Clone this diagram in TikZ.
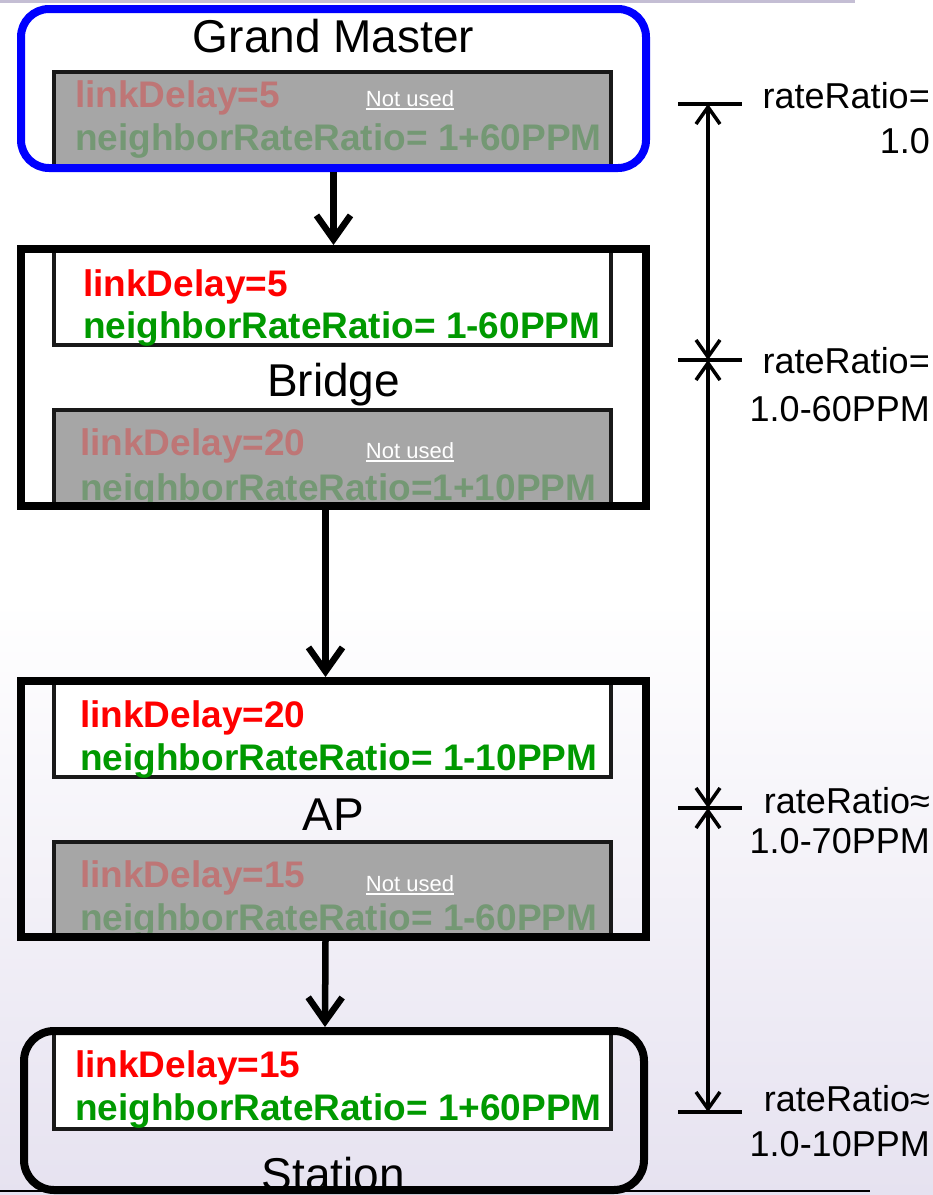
\documentclass[tikz,border=0pt]{standalone}
\usepackage{fontspec}
\setmainfont{Liberation Sans}
\usetikzlibrary{arrows.meta}

\definecolor{lav}{RGB}{230,226,240}
\definecolor{rulegray}{RGB}{196,190,212}
\definecolor{baseline}{RGB}{150,150,158}
\definecolor{activered}{RGB}{255,0,0}
\definecolor{activegreen}{RGB}{0,153,0}
\definecolor{fadedred}{RGB}{190,118,118}
\definecolor{fadedgreen}{RGB}{116,152,116}
\definecolor{unusedfill}{RGB}{166,166,166}
\definecolor{gmblue}{RGB}{0,0,255}

\tikzset{
  frame/.style={draw=black, line width=8pt, inner sep=0pt, minimum width=625pt},
  portbox/.style={draw=black!90, line width=4pt, inner sep=0pt, minimum width=557pt},
  activeport/.style={portbox, fill=white},
  idleport/.style={portbox, fill=unusedfill},
  valtext/.style={font=\fontsize{37}{40}\selectfont\bfseries, anchor=base west, inner sep=0pt},
  delayon/.style={valtext, text=activered},
  rateon/.style={valtext, text=activegreen},
  delayoff/.style={valtext, text=fadedred},
  rateoff/.style={valtext, text=fadedgreen},
  title/.style={font=\fontsize{46}{50}\selectfont, anchor=base, inner sep=0pt},
  notused/.style={font=\fontsize{22}{24}\selectfont, text=white, anchor=base, inner sep=0pt},
  ratelabel/.style={font=\fontsize{36}{40}\selectfont, anchor=base east, inner sep=0pt},
  flow/.style={line width=6.5pt, -{Straight Barb[length=24pt,width=34pt]}},
  dimline/.style={line width=3.5pt},
  dimarrow/.style={dimline, {Straight Barb[length=17pt,width=24pt]}-{Straight Barb[length=17pt,width=24pt]}},
}

\begin{document}
\begin{tikzpicture}[x=1pt,y=1pt]
  \useasboundingbox (0,0) rectangle (933,-1195);
  % page background: white fading to pale lavender towards the foot
  \fill[white] (0,0) rectangle (933,-600);
  \shade[top color=white, bottom color=lav] (0,-600) rectangle (933,-1195);
  \draw[rulegray, line width=3pt] (0,-1.5) -- (855,-1.5);
  \draw[baseline, line width=2pt] (0,-1191) -- (870,-1191);

  % ---- port boxes ----
  \node[idleport, minimum height=96pt] (gmport) at (332.5,-120) {};
  \node[activeport, minimum height=94pt] (brup) at (332.5,-298) {};
  \node[idleport, minimum height=96pt] (brdown) at (332.5,-458) {};
  \node[activeport, minimum height=94pt] (apup) at (332.5,-730) {};
  \node[idleport, minimum height=95pt] (apdown) at (332.5,-889.5) {};
  \node[activeport, minimum height=98pt] (staport) at (332.5,-1080) {};

  % ---- port values ----
  \node[delayoff] (gmd) at (75,-107) {linkDelay=5};
  \node[rateoff] (gmr) at (75,-150) {neighborRateRatio= 1+60PPM};
  \node[notused] (nu1) at (410,-106) {Not used};

  \node[delayon] (bud) at (83,-296) {linkDelay=5};
  \node[rateon] (bur) at (83,-338) {neighborRateRatio= 1-60PPM};
  \node[delayoff] (bdd) at (80,-455) {linkDelay=20};
  \node[rateoff] (bdr) at (80,-500) {neighborRateRatio=1+10PPM};
  \node[notused] (nu2) at (410,-458) {Not used};

  \node[delayon] (aud) at (80,-727) {linkDelay=20};
  \node[rateon] (aur) at (80,-770) {neighborRateRatio= 1-10PPM};
  \node[delayoff] (add) at (80,-887) {linkDelay=15};
  \node[rateoff] (adr) at (80,-930) {neighborRateRatio= 1-60PPM};
  \node[notused] (nu3) at (410,-891) {Not used};

  \node[delayon] (sd) at (75,-1077) {linkDelay=15};
  \node[rateon] (sr) at (75,-1120) {neighborRateRatio= 1+60PPM};

  \foreach \n in {nu1,nu2,nu3}
    \draw[white, line width=1.6pt] ([yshift=-3pt]\n.base west) -- ([yshift=-3pt]\n.base east);

  % ---- device names ----
  \node[title] (gmname) at (333.5,-52) {Grand Master};
  \node[title] (brname) at (333.5,-396) {Bridge};
  \node[title] (apname) at (333.5,-830) {AP};
  \node[title] (staname) at (333.5,-1190) {Station};

  % ---- device frames ----
  \node[frame, draw=gmblue, rounded corners=28pt, minimum height=159pt] (gm) at (333.5,-88.5) {};
  \node[frame, minimum height=257pt] (bridge) at (333.5,-377.5) {};
  \node[frame, minimum height=256pt] (ap) at (333.5,-809) {};
  \node[frame, rounded corners=30pt, minimum width=620pt, minimum height=159pt] (station) at (334,-1110.5) {};

  % ---- sync flow ----
  \draw[flow] (gm.south) -- (bridge.north);
  \draw[flow] ([xshift=-8pt]bridge.south) -- ([xshift=-8pt]ap.north);
  \draw[flow] ([xshift=-8pt]ap.south) -- ([xshift=-9pt]station.north);

  % ---- rateRatio scale ----
  \coordinate (d1) at (708,-104);
  \coordinate (d2) at (708,-360);
  \coordinate (d3) at (708,-808);
  \coordinate (d4) at (708,-1112);
  \foreach \c in {d1,d2,d3,d4}
    \draw[dimline] ([xshift=-30pt]\c) -- ([xshift=34pt]\c);
  \draw[dimarrow] (d1) -- (d2);
  \draw[dimarrow] (d2) -- (d3);
  \draw[dimarrow] (d3) -- (d4);

  \node[ratelabel] (r1a) at (930,-108) {rateRatio=};
  \node[ratelabel] (r1b) at (930,-153) {1.0};
  \node[ratelabel] (r2a) at (930,-373) {rateRatio=};
  \node[ratelabel] (r2b) at (930,-421) {1.0-60PPM};
  \node[ratelabel] (r3a) at (930,-813) {rateRatio≈};
  \node[ratelabel] (r3b) at (930,-853) {1.0-70PPM};
  \node[ratelabel] (r4a) at (930,-1111) {rateRatio≈};
  \node[ratelabel] (r4b) at (930,-1156) {1.0-10PPM};
\end{tikzpicture}
\end{document}
